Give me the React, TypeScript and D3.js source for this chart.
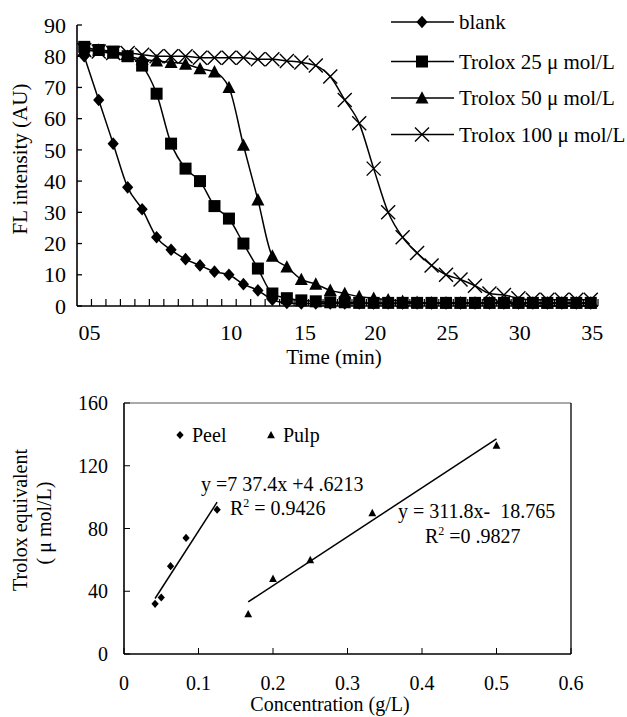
import React from 'react';
import * as d3 from 'd3';

// ---------- Top chart data (FL intensity vs time) ----------
const times = [0,1,2,3,4,5,6,7,8,9,10,11,12,13,14,15,16,17,18,19,20,21,22,23,24,25,26,27,28,29,30,31,32,33,34,35];
const blank = [80,66,52,38,31,22,18,15,13,11,10,7,5,2,1,0.8,0.8,0.8,0.8,0.8,0.8,0.8,0.8,0.8,0.8,0.8,0.8,0.8,0.8,0.8,0.8,0.8,0.8,0.8,0.8,0.8];
const trolox25 = [83,82,81.5,80,77,68,52,44,40,32,28,20,12,4,2.5,1.8,1.5,1.2,1.2,1,1,1,1,1,1,1,1,1,1,1,1,1,1,1,1,1];
const trolox50 = [82,82,81,80,79,78.5,78,77.5,76,75,70,51.5,34,16,12.5,8.5,7,5,4,3,2.5,2,1.5,1.2,1,1,1,1,1,1,1,1,1,1,1,1];
const trolox100 = [82,81.5,81,81,80.5,80,80,80,79.5,79.5,79.5,79.5,79,79,78.5,78,77,73.5,66,58.5,44,30,22,17,13,10,8.5,6.5,4,3.5,2.5,2,2,2,2,2];
const seriesNames = ['blank', 'Trolox 25 μ mol/L', 'Trolox 50 μ mol/L', 'Trolox 100 μ mol/L'];
const seriesMarkers = ['diamond', 'square', 'triangle', 'cross'];
const topYTicks = [0,10,20,30,40,50,60,70,80,90];
const topXLabels = ['05','10','15','20','25','30','35'];
const topXLabelAt = [0.86,10.65,15.76,20.6,25.6,30.6,35.6];

// ---------- Bottom chart data (Trolox equivalent vs concentration) ----------
const peelConc = [0.0417,0.05,0.0625,0.0833,0.125];
const peelTE = [32,36,56,74,92];
const pulpConc = [0.1667,0.2,0.25,0.3333,0.5];
const pulpTE = [25.5,48,60,90,133];
const peelSlope = 737.4, peelIntercept = 4.6213;
const pulpSlope = 311.8, pulpIntercept = -18.765;
const bottomYTicks = [0,40,80,120,160];
const bottomXTicks = [0,0.1,0.2,0.3,0.4,0.5,0.6];

const FONT = '"Liberation Serif", "Times New Roman", serif';

function Marker({ kind, x, y, s = 1 }: { kind: string; x: number; y: number; s?: number }) {
  const t = `translate(${x},${y}) scale(${s})`;
  if (kind === 'diamond') return <path transform={t} d="M0,-6.3 L5.6,0 L0,6.3 L-5.6,0 Z" fill="#000" />;
  if (kind === 'square') return <rect transform={t} x={-6} y={-6} width={12} height={12} fill="#000" />;
  if (kind === 'triangle') return <path transform={t} d="M0,-6.8 L6.5,5.6 L-6.5,5.6 Z" fill="#000" />;
  return <path transform={t} d="M-7,-7 L7,7 M-7,7 L7,-7" stroke="#000" strokeWidth={1.4 / s} fill="none" />;
}

export default function App() {
  // top chart scales
  const xT = d3.scaleLinear().domain([0, 36]).range([77, 598]);
  const yT = d3.scaleLinear().domain([0, 90]).range([306, 25]);
  const allSeries = [blank, trolox25, trolox50, trolox100];
  const line = d3.line<number>().x((_, i) => xT(times[i] + 0.5)).y((d) => yT(d)).curve(d3.curveMonotoneX);
  const catBounds = times.slice(1);

  // bottom chart scales
  const xB = d3.scaleLinear().domain([0, 0.6]).range([124, 571]);
  const yB = d3.scaleLinear().domain([0, 160]).range([654, 403]);
  const peelLine = [d3.min(peelConc)!, d3.max(peelConc)!].map((c) => [xB(c), yB(peelSlope * c + peelIntercept)]);
  const pulpLine = [d3.min(pulpConc)!, d3.max(pulpConc)!].map((c) => [xB(c), yB(pulpSlope * c + pulpIntercept)]);

  const legendRows = [22, 61.5, 98, 134.5];

  return (
    <svg width={627} height={717} style={{ position: 'absolute', left: 0, top: 0, background: '#fff' }} fontFamily={FONT}>
      <rect width={627} height={717} fill="#fff" />
      {/* ===== Top chart ===== */}
      {allSeries.map((s, k) => (
        <path key={'l' + k} d={line(s)!} fill="none" stroke="#000" strokeWidth={1.5} />
      ))}
      {allSeries.map((s, k) => (
        <g key={'m' + k}>
          {s.map((v, i) => (
            <Marker key={i} kind={seriesMarkers[k]} x={xT(times[i] + 0.5)} y={yT(v)} />
          ))}
        </g>
      ))}
      {/* axes */}
      <line x1={xT(0)} x2={xT(0)} y1={yT(0)} y2={yT(90)} stroke="#000" strokeWidth={1.6} />
      <line x1={xT(0)} x2={xT(36)} y1={yT(0)} y2={yT(0)} stroke="#000" strokeWidth={1.6} />
      {topYTicks.map((t) => (
        <g key={'yt' + t}>
          <line x1={xT(0)} x2={xT(0) + 5} y1={yT(t)} y2={yT(t)} stroke="#000" strokeWidth={1.3} />
          <text x={66} y={yT(t)} dy="0.35em" textAnchor="end" fontSize={22}>{t}</text>
        </g>
      ))}
      {catBounds.map((c) => (
        <line key={'xt' + c} x1={xT(c)} x2={xT(c)} y1={yT(0)} y2={yT(0) - 7} stroke="#000" strokeWidth={1.2} />
      ))}
      <line x1={xT(36)} x2={xT(36)} y1={yT(0)} y2={yT(0) - 7} stroke="#000" strokeWidth={1.2} />
      {topXLabels.map((l, i) => (
        <text key={'xl' + l} x={xT(topXLabelAt[i])} y={340} textAnchor="middle" fontSize={22}>{l}</text>
      ))}
      <text x={334} y={364} textAnchor="middle" fontSize={21}>Time (min)</text>
      <text transform={`translate(27,159) rotate(-90)`} textAnchor="middle" fontSize={21}>FL intensity (AU)</text>
      {/* legend */}
      {seriesNames.map((n, k) => (
        <g key={'lg' + k}>
          <line x1={391} x2={454} y1={legendRows[k]} y2={legendRows[k]} stroke="#000" strokeWidth={1.5} />
          <Marker kind={seriesMarkers[k]} x={422} y={legendRows[k]} />
          <text x={459} y={legendRows[k] + 7} fontSize={21}>{n}</text>
        </g>
      ))}

      {/* ===== Bottom chart ===== */}
      <line x1={xB(0)} x2={xB(0.6)} y1={yB(160)} y2={yB(160)} stroke="#555" strokeWidth={1} />
      <line x1={xB(0.6)} x2={xB(0.6)} y1={yB(160)} y2={yB(0)} stroke="#000" strokeWidth={1.3} />
      <line x1={xB(0)} x2={xB(0)} y1={yB(0)} y2={yB(160)} stroke="#000" strokeWidth={1.6} />
      <line x1={xB(0)} x2={xB(0.6)} y1={yB(0)} y2={yB(0)} stroke="#000" strokeWidth={1.6} />
      {bottomYTicks.map((t) => (
        <g key={'byt' + t}>
          <line x1={xB(0)} x2={xB(0) + 6} y1={yB(t)} y2={yB(t)} stroke="#000" strokeWidth={1} />
          <text x={108} y={yB(t)} dy="0.35em" textAnchor="end" fontSize={20}>{t}</text>
        </g>
      ))}
      {bottomXTicks.map((t) => (
        <g key={'bxt' + t}>
          <line x1={xB(t)} x2={xB(t)} y1={yB(0)} y2={yB(0) - 6} stroke="#000" strokeWidth={1} />
          <text x={xB(t)} y={690} textAnchor="middle" fontSize={20}>{t}</text>
        </g>
      ))}
      <text x={330} y={711} textAnchor="middle" fontSize={20}>Concentration (g/L)</text>
      <text transform={`translate(27,520) rotate(-90)`} textAnchor="middle" fontSize={20}>Trolox equivalent</text>
      <text transform={`translate(51,523) rotate(-90)`} textAnchor="middle" fontSize={20}>( μ mol/L)</text>
      {/* fit lines */}
      <line x1={peelLine[0][0]} y1={peelLine[0][1]} x2={peelLine[1][0]} y2={peelLine[1][1]} stroke="#000" strokeWidth={1.5} />
      <line x1={pulpLine[0][0]} y1={pulpLine[0][1]} x2={pulpLine[1][0]} y2={pulpLine[1][1]} stroke="#000" strokeWidth={1.5} />
      {peelConc.map((c, i) => (
        <Marker key={'pe' + i} kind="diamond" x={xB(c)} y={yB(peelTE[i])} s={0.65} />
      ))}
      {pulpConc.map((c, i) => (
        <Marker key={'pu' + i} kind="triangle" x={xB(c)} y={yB(pulpTE[i])} s={0.6} />
      ))}
      {/* legend */}
      <Marker kind="diamond" x={180} y={435} s={0.65} />
      <text x={192} y={442} fontSize={20}>Peel</text>
      <Marker kind="triangle" x={271} y={435} s={0.6} />
      <text x={283} y={442} fontSize={20}>Pulp</text>
      {/* equations */}
      <text x={201} y={491} fontSize={20}>y =7 37.4x +4 .6213</text>
      <text x={230} y={515} fontSize={20}>R<tspan dy={-8} fontSize={12}>2</tspan><tspan dy={8}> = 0.9426</tspan></text>
      <text x={398} y={518} fontSize={20} style={{ whiteSpace: 'pre' }}>{'y = 311.8x-  18.765'}</text>
      <text x={425} y={543} fontSize={20}>R<tspan dy={-8} fontSize={12}>2</tspan><tspan dy={8}> =0 .9827</tspan></text>
    </svg>
  );
}
